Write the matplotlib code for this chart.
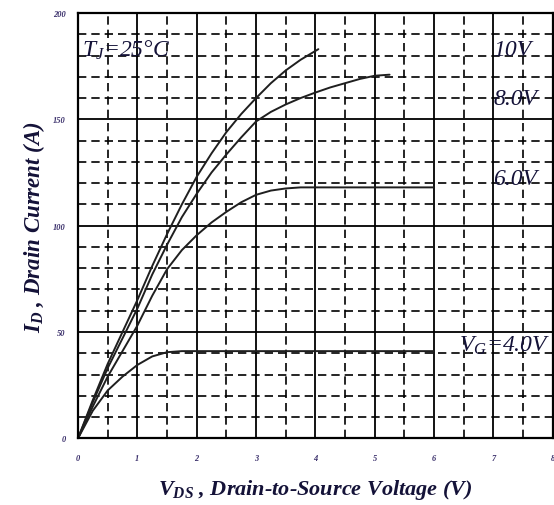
import matplotlib
matplotlib.use("Agg")
import matplotlib.pyplot as plt
from matplotlib.ticker import MultipleLocator

plt.rcParams["font.family"] = ["Liberation Serif", "DejaVu Serif"]
plt.rcParams["mathtext.fontset"] = "custom"
plt.rcParams["mathtext.it"] = "Liberation Serif:italic:bold"
plt.rcParams["mathtext.rm"] = "Liberation Serif:bold"
plt.rcParams["mathtext.sf"] = "Liberation Serif:italic"

# output curves (V_DS in V, I_D in A)
vds_10v = [0, 0.25, 0.5, 0.75, 1.0, 1.25, 1.5, 1.75, 2.0, 2.25, 2.5, 2.75, 3.0, 3.25, 3.5, 3.75, 4.05]
id_10v = [0, 18, 35, 50, 65, 81, 96, 110, 123, 134, 144, 152.5, 160, 167, 173, 178, 183]

vds_8v = [0, 0.25, 0.5, 0.75, 1.0, 1.25, 1.5, 1.75, 2.0, 2.25, 2.5, 2.75, 3.0, 3.25, 3.5, 3.75, 4.0, 4.25, 4.5, 4.75, 5.0, 5.25]
id_8v = [0, 17, 33, 47, 61, 77, 91, 104, 115, 125, 133.5, 141.5, 149, 153.5, 157, 160, 162.6, 165, 167, 169, 170.5, 171]

vds_6v = [0, 0.25, 0.5, 0.75, 1.0, 1.25, 1.5, 1.75, 2.0, 2.25, 2.5, 2.75, 3.0, 3.25, 3.5, 3.75, 4.0, 5.0, 6.0]
id_6v = [0, 15, 29, 41, 53, 67, 79.5, 88.5, 95.5, 101.5, 106.5, 111, 114.5, 116.5, 117.5, 118, 118, 118, 118]

vds_4v = [0, 0.25, 0.5, 0.75, 1.0, 1.25, 1.5, 1.75, 2.0, 4.0, 6.0]
id_4v = [0, 13, 22.5, 29, 34.5, 38.5, 40.5, 41, 41, 41, 41]

curves = [(vds_10v, id_10v), (vds_8v, id_8v), (vds_6v, id_6v), (vds_4v, id_4v)]
x_ticks = [0, 1, 2, 3, 4, 5, 6, 7, 8]
y_ticks = [0, 50, 100, 150, 200]

TEXT_COLOR = "#141238"
TICK_COLOR = "#3a2f6b"

fig = plt.figure(figsize=(5.54, 5.06), dpi=100)
ax = fig.add_axes([0.1408, 0.1318, 0.857, 0.8405])

ax.set_xlim(0, 8)
ax.set_ylim(0, 200)
ax.set_xticks(x_ticks)
ax.set_yticks(y_ticks)
ax.xaxis.set_minor_locator(MultipleLocator(0.5))
ax.yaxis.set_minor_locator(MultipleLocator(10))

ax.grid(which="major", color="black", linewidth=1.3, linestyle="-")
ax.grid(which="minor", color="black", linewidth=1.2, linestyle=(0, (5, 3)))
ax.set_axisbelow(True)
for spine in ax.spines.values():
    spine.set_linewidth(1.6)

ax.tick_params(which="both", length=0)
ax.tick_params(axis="x", pad=11, labelsize=6, labelcolor=TICK_COLOR)
ax.tick_params(axis="y", pad=9, labelsize=6, labelcolor=TICK_COLOR)
for lbl in ax.get_xticklabels() + ax.get_yticklabels():
    lbl.set_fontstyle("italic")
    lbl.set_fontweight("bold")

for vds, current in curves:
    ax.plot(vds, current, color="#1f1f1f", linewidth=1.4, solid_capstyle="round")

txt = dict(color=TEXT_COLOR, fontsize=17, fontstyle="italic", va="center", ha="left")
ax.text(0.07, 183, r"$\mathsf{T_J}$=25°C", **txt)
ax.text(7.0, 183, "10V", **txt)
ax.text(7.0, 160, "8.0V", **txt)
ax.text(7.0, 122, "6.0V", **txt)
ax.text(6.42, 44, r"$\mathsf{V_G}$=4.0V", **txt)

ax.set_xlabel("$V_{DS}$ , Drain-to-Source Voltage (V)", fontsize=16, fontstyle="italic",
              fontweight="bold", color=TEXT_COLOR, labelpad=11)
ax.set_ylabel("$I_D$ , Drain Current (A)", fontsize=16.5, fontstyle="italic",
              fontweight="bold", color=TEXT_COLOR, labelpad=4)

fig.savefig("out.png", dpi=100)
